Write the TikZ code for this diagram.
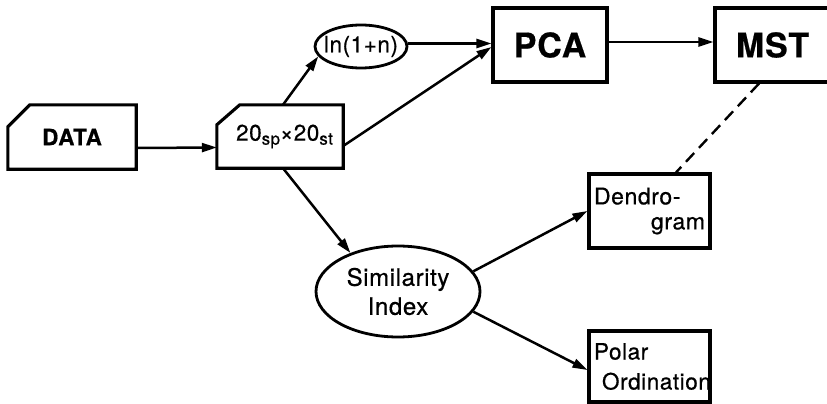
\documentclass[tikz,border=0pt]{standalone}
\usepackage{fontspec}
\setmainfont{TeX Gyre Heros}[LetterSpace=2.5,FakeBold=0.6]
\usetikzlibrary{arrows.meta,shapes.geometric}
\begin{document}
\begin{tikzpicture}[x=1pt,y=-1pt,
  box/.style={draw, line width=3.1pt, rectangle, inner sep=0pt},
  oval/.style={draw, line width=2.8pt, ellipse, inner sep=0pt},
  outline/.style={line width=3.1pt},
  arr/.style={line width=2.5pt, -{Triangle[length=15pt,width=9pt]}},
  txt/.style={font=\fontsize{22.5}{24}\selectfont},
  big/.style={font=\fontsize{34}{36}\bfseries\selectfont},
]
\useasboundingbox (0,0) rectangle (827,404);
\clip (0,0) rectangle (827,404);

% nodes
\node[minimum width=128pt, minimum height=64pt, inner sep=0pt,
      font=\fontsize{22.5}{24}\bfseries\selectfont] (data) at (72,137) {DATA};
\draw[outline] (data.south west) -- ([yshift=-22pt]data.north west)
  -- ([xshift=22pt]data.north west) -- (data.north east)
  -- (data.south east) -- cycle;

\node[minimum width=126pt, minimum height=63pt, inner sep=0pt, txt] (sp) at (280,136.5)
  {\hspace*{9pt}20\raisebox{-4pt}{\fontsize{17}{17}\selectfont sp}×20\raisebox{-4pt}{\fontsize{17}{17}\selectfont st}};
\draw[outline] (sp.south west) -- ([yshift=-20pt]sp.north west)
  -- ([xshift=23pt]sp.north west) -- (sp.north east)
  -- (sp.south east) -- cycle;

\node[oval, minimum width=92pt, minimum height=43pt, txt] (ln) at (361,46.5)
  {\makebox[0pt]{ln(1+n)}};

\node[box, minimum width=114pt, minimum height=74pt, big] (pca) at (550,45) {PCA};
\node[box, minimum width=115pt, minimum height=74pt, big] (mst) at (772.5,45) {MST};

\node[oval, minimum width=164pt, minimum height=91pt, align=center,
      font=\fontsize{24}{29}\selectfont] (sim) at (398,291.5) {Similarity\\Index};

\node[box, minimum height=74pt, text width=111pt, inner sep=5pt, align=left,
      font=\fontsize{23}{25}\selectfont] (dendro) at (649.5,211)
  {Dendro-\\\hspace*{0pt plus 1filll}gram};

\node[box, minimum height=71pt, text width=111pt, inner sep=5pt, align=left,
      font=\fontsize{22.5}{30}\selectfont] (polar) at (649.5,366.5)
  {Polar\\\hspace*{8pt}\makebox[0pt][l]{Ordination}};

% connectors
\draw[arr] ([yshift=-11pt]data.east) -- ([yshift=-11pt]sp.west);
\draw[arr] ([xshift=3pt]sp.north) -- (ln.193);
\draw[arr] ([yshift=3pt]ln.east) -- ([yshift=3pt]ln.east -| pca.west);
\draw[arr] ([yshift=-9.5pt]sp.east) -- ([yshift=-2pt]pca.west);
\draw[arr] ([yshift=3pt]pca.east) -- ([yshift=3pt]mst.west);
\draw[arr] ([xshift=3pt]sp.south) -- (sim.141);
\draw[arr] (sim.15) -- (dendro.west);
\draw[arr] (sim.345) -- ([yshift=-3.5pt]polar.west);
\draw[line width=2.4pt, dash pattern=on 12pt off 7pt] ([xshift=-13.5pt]mst.south) -- ([xshift=26.5pt]dendro.north);
\end{tikzpicture}
\end{document}
